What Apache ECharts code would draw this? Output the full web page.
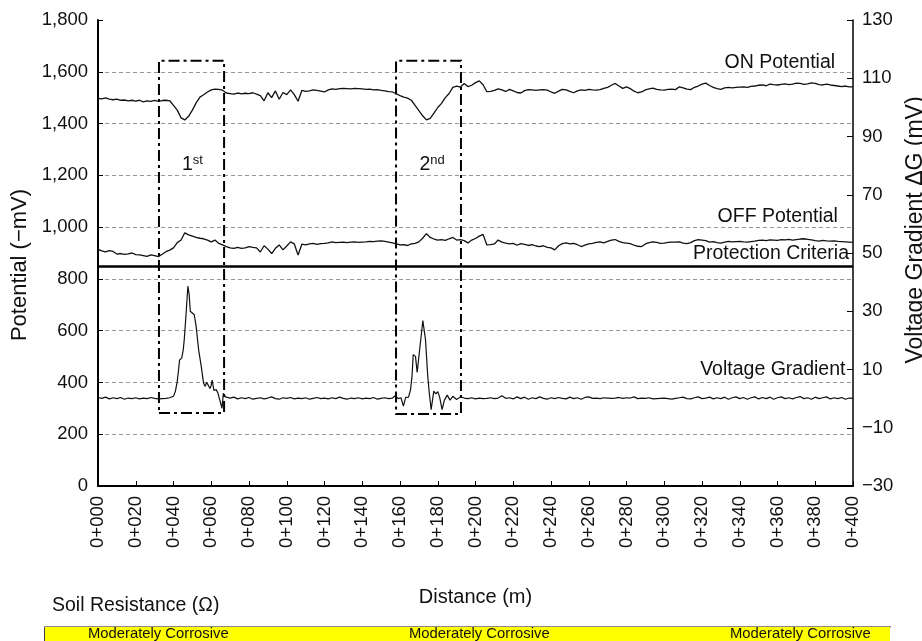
<!DOCTYPE html>
<html>
<head>
<meta charset="utf-8">
<script src="https://cdn.jsdelivr.net/npm/echarts@6/dist/echarts.min.js"></script>
<style>
  html, body { margin: 0; padding: 0; background: #fff; }
  #chart { width: 922px; height: 641px; }
</style>
</head>
<body>
<div id="chart"></div>
<script>
// potentials read every 2 m along the line (0 .. 400 m), in -mV
const STEP_M = 2
const onPotential = [
  1497, 1495, 1499, 1494, 1492, 1494, 1490, 1491, 1488, 1490,
  1487, 1490, 1484, 1488, 1486, 1490, 1486, 1489, 1490, 1488,
  1470, 1452, 1422, 1414, 1428, 1452, 1480, 1502, 1511, 1522,
  1530, 1533, 1532, 1529, 1518, 1516, 1514, 1518, 1515, 1517,
  1516, 1519, 1514, 1508, 1488, 1519, 1500, 1526, 1494, 1520,
  1512, 1530, 1512, 1486, 1528, 1524, 1526, 1530, 1528, 1525,
  1522, 1530, 1534, 1532, 1535, 1536, 1535, 1534, 1536, 1535,
  1534, 1532, 1533, 1530, 1531, 1528, 1526, 1523, 1522, 1515,
  1508, 1502, 1498, 1490, 1470, 1450, 1430, 1414, 1420, 1440,
  1462, 1478, 1500, 1516, 1540, 1545, 1541, 1555, 1543, 1548,
  1558, 1565, 1550, 1523, 1524, 1528, 1534, 1530, 1524, 1532,
  1526, 1520, 1518, 1527, 1531, 1530, 1528, 1530, 1531, 1529,
  1522, 1517, 1525, 1532, 1530, 1524, 1519, 1526, 1530, 1528,
  1532, 1530, 1529, 1531, 1536, 1540, 1548, 1555, 1545, 1536,
  1542, 1535, 1525, 1519, 1522, 1530, 1534, 1537, 1532, 1530,
  1529, 1532, 1533, 1531, 1542, 1538, 1533, 1531, 1540, 1545,
  1552, 1556, 1547, 1540, 1535, 1532, 1538, 1540, 1538, 1540,
  1541, 1542, 1540, 1544, 1545, 1548, 1549, 1546, 1552, 1550,
  1549, 1551, 1553, 1550, 1552, 1556, 1555, 1551, 1553, 1557,
  1555, 1550, 1549, 1552, 1549, 1547, 1545, 1543, 1545, 1542,
  1542
]
const offPotential = [
  914, 908, 904, 909, 906, 896, 898, 895, 897, 900,
  894, 893, 890, 887, 893, 890, 886, 895, 905, 911,
  920, 940, 950, 978, 970, 965, 960, 957, 955, 950,
  943, 950, 937, 931, 925, 920, 918, 922, 918, 920,
  925, 922, 920, 904, 928, 915, 898, 918, 931, 912,
  927, 943, 935, 892, 934, 931, 935, 937, 933, 936,
  937, 939, 943, 940, 941, 942, 940, 942, 943, 941,
  942, 943, 945, 944, 946, 947, 945, 942, 939, 935,
  931, 932, 929, 935, 937, 943, 957, 975, 960, 954,
  950, 952, 949, 955, 960, 950, 952, 948, 939, 950,
  956, 965, 972, 931, 932, 935, 950, 942, 938, 935,
  937, 930, 936, 933, 929, 932, 927, 925, 928, 922,
  920, 912, 928, 936, 939, 935, 937, 932, 925, 930,
  935, 937, 941, 943, 939, 945, 950, 952, 945, 940,
  938, 936, 930, 926, 925, 935, 940, 943, 941, 937,
  938, 941, 942, 942, 943, 938, 936, 940, 948, 952,
  950, 948, 942, 944, 940, 938, 942, 945, 943, 944,
  945, 943, 942, 944, 946, 949, 950, 948, 951, 950,
  949, 952, 951, 953, 950, 952, 954, 955, 953, 951,
  948, 946, 949, 947, 946, 947, 945, 944, 943, 942,
  941
]
// voltage gradient readings [distance m, mV]
const voltageGradient = [
  [0, 0.4], [2, 0.1], [4, 0.5], [6, -0.1], [8, 0.3], [10, 0.0], [12, 0.4], [14, -0.2], [16, 0.2], [18, 0.0],
  [20, 0.3], [22, -0.1], [24, 0.2], [26, 0.0], [28, 0.4], [30, 0.1], [32, -0.1], [34, 0.0], [36, 0.1], [38, 0.3],
  [40, 0.8], [41, 2.5], [42, 6.0], [42.6, 9.4], [43.2, 13.2], [44.4, 14.0], [45.2, 17.0], [45.7, 20.3], [46.7, 29.4],
  [47.6, 38.6], [48.3, 35.7], [48.9, 30.0], [49.8, 29.5], [51, 28.8], [52, 24.8], [53.3, 16.8], [54.7, 11.1],
  [55.9, 5.4], [56.8, 4.2], [57.6, 5.6], [58.5, 5.0], [59.3, 3.5], [60, 4.6], [60.5, 6.4], [61.4, 2.8], [62.6, 3.1],
  [63.5, 2.0], [64.3, 1.5], [65.7, -3.3], [66.4, 1.8], [67.5, 0.6],
  [70, 0.2], [72, 0.5], [74, -0.1], [76, 0.3], [78, 0.0], [80, 0.4], [82, -0.2], [84, 0.1], [86, 0.3], [88, -0.1],
  [90, 0.2], [92, 0.6], [94, 0.0], [96, -0.2], [98, 0.3], [100, 0.1], [102, 0.4], [104, -0.1], [106, 0.2], [108, 0.0],
  [110, 0.3], [112, -0.2], [114, 0.1], [116, 0.4], [118, 0.0], [120, 0.2], [122, -0.1], [124, 0.3], [126, 0.0], [128, 0.5],
  [130, 0.1], [132, -0.2], [134, 0.2], [136, 0.0], [138, 0.3], [140, -0.1], [142, 0.2], [144, 0.0], [146, 0.4], [148, -0.2],
  [150, 0.1], [152, 0.3], [154, 0.0],
  [156, 0.2], [157.5, 1.0], [159, 0.0], [160.5, 0.3], [161.8, -2.6], [163, 0.4], [164.5, 0.5], [165.6, 3.1], [166.4, 8.0],
  [167, 15.1], [168.2, 14.5], [169.1, 9.0], [170.4, 16.8], [171.3, 22.0], [172.1, 26.8], [173.5, 20.3], [174.7, 7.7],
  [175.5, 2.0], [176.5, -3.8], [177.9, 2.6], [179, 1.6], [180, 2.4], [181, 0.5], [182.3, -3.8], [183.5, -0.5], [185, 1.2],
  [186.5, -0.5], [188, 0.8], [190, -0.3], [192, 0.6],
  [194, 0.2], [196, 0.0], [198, 0.3], [200, -0.1], [202, 0.2], [204, 0.0], [206, 0.1], [208, 0.3], [210, 0.0], [212, 0.2],
  [214, 1.0], [216, 0.1], [218, 0.3], [220, -0.1], [222, 0.6], [224, 0.0], [226, 0.5], [228, -0.2], [230, 0.3], [232, 0.0],
  [234, 0.6], [236, 0.1], [238, -0.2], [240, 0.3], [242, 0.0], [244, 0.4], [246, 0.1], [248, -0.1], [250, 0.5], [252, 0.0],
  [254, 0.3], [256, -0.2], [258, 0.4], [260, 0.6], [262, 0.1], [264, 0.2], [266, 0.0], [268, 0.3], [270, 0.2], [272, 0.1],
  [274, 0.2], [276, 0.4], [278, 0.1], [280, 0.3], [282, 0.2], [284, 0.6], [286, 0.0], [288, 0.2], [290, 0.1], [292, 0.3],
  [294, -0.1], [296, 0.0], [298, 0.1], [300, 0.2], [302, 0.0], [304, -0.2], [306, 0.1], [308, 0.3], [310, 0.5], [312, 0.0],
  [314, -0.1], [316, 0.3], [318, 0.6], [320, 0.0], [322, 0.2], [324, 0.5], [326, -0.1], [328, 0.3], [330, 0.0], [332, 0.5],
  [334, -0.2], [336, 0.3], [338, 0.6], [340, 0.0], [342, 0.4], [344, -0.2], [346, 0.3], [348, 0.6], [350, -0.1], [352, 0.4],
  [354, 0.0], [356, 0.5], [358, -0.2], [360, 0.3], [362, 0.6], [364, 0.0], [366, 0.3], [368, -0.1], [370, 0.4], [372, 0.7],
  [374, 0.0], [376, 0.3], [378, -0.2], [380, 0.5], [382, 0.0], [384, 0.3], [386, 0.6], [388, -0.1], [390, 0.3], [392, 0.0],
  [394, 0.4], [396, -0.2], [398, 0.2], [400, 0.1]
]

const distanceLabels = ['0+000', '0+020', '0+040', '0+060', '0+080', '0+100', '0+120', '0+140', '0+160', '0+180', '0+200',
  '0+220', '0+240', '0+260', '0+280', '0+300', '0+320', '0+340', '0+360', '0+380', '0+400']
const potentialLabels = ['0', '200', '400', '600', '800', '1,000', '1,200', '1,400', '1,600', '1,800']
const gradientLabels = ['\u221230', '\u221210', '10', '30', '50', '70', '90', '110', '130']

// the two inspected stretches (m) and the box they get (-mV)
const windows = [
  { name: '1', sup: 'st', from: 32.3, to: 66.8, low: 282, high: 1643, labelAt: 50 },
  { name: '2', sup: 'nd', from: 157.9, to: 192.3, low: 278, high: 1643, labelAt: 177 }
]
const protectionCriteria = 850

// soil resistance table row
const soilClasses = ['Moderately Corrosive', 'Moderately Corrosive', 'Moderately Corrosive']
const soilWidths = [321, 321, 203]

const FONT = 'Liberation Sans, Arial, sans-serif'
const INK = '#111'

let chart = echarts.init(document.getElementById('chart'), null, { renderer: 'canvas' })

function annot(coord, text) {
  return {
    coord: coord,
    value: text,
    symbolSize: 0,
    label: {
      show: true, position: 'left', distance: 0, formatter: text,
      fontFamily: FONT, fontSize: 19.5, color: INK
    }
  }
}

let option = {
  animation: false,
  textStyle: { fontFamily: FONT },
  title: {
    text: 'Soil Resistance (\u03a9)',
    left: 52, top: 596, padding: 0,
    textStyle: { fontFamily: FONT, fontSize: 19.5, fontWeight: 'normal', color: INK }
  },
  grid: [
    { left: 98, right: 69, top: 20, bottom: 155, outerBoundsMode: 'none' },
    { left: 45, right: 32, top: 627, height: 14, outerBoundsMode: 'none' }
  ],
  xAxis: [
    {
      type: 'value', gridIndex: 0, min: 0, max: 400, interval: 20,
      name: 'Distance (m)', nameLocation: 'middle', nameGap: 101,
      nameTextStyle: { fontFamily: FONT, fontSize: 20, color: INK },
      axisLine: { lineStyle: { color: '#000', width: 2 } },
      axisTick: { inside: true, length: 5, lineStyle: { color: '#000' } },
      axisLabel: {
        rotate: 90, margin: 10, fontSize: 18.5, color: INK, fontFamily: FONT,
        formatter: v => distanceLabels[Math.round(v / 20)]
      },
      splitLine: { show: false }
    },
    {
      type: 'value', gridIndex: 1, min: 0, max: 845, position: 'top',
      axisLine: { show: true, lineStyle: { color: '#8a8a8a', width: 2 } },
      axisTick: { show: false }, axisLabel: { show: false }, splitLine: { show: false }
    }
  ],
  yAxis: [
    {
      type: 'value', gridIndex: 0, min: 0, max: 1800, interval: 200,
      name: 'Potential (\u2212mV)', nameLocation: 'middle', nameGap: 66, nameRotate: 90,
      nameTextStyle: { fontFamily: FONT, fontSize: 22, color: INK, padding: [0, 24, 0, 0] },
      axisLine: { show: true, lineStyle: { color: '#000', width: 2 } },
      axisTick: { show: true, inside: true, length: 5, lineStyle: { color: '#000' } },
      axisLabel: {
        margin: 10, fontSize: 18.5, color: INK, fontFamily: FONT,
        formatter: v => potentialLabels[Math.round(v / 200)]
      },
      splitLine: {
        show: true, showMinLine: false, showMaxLine: false,
        lineStyle: { color: '#9a9a9a', type: [4, 3], width: 1 }
      }
    },
    {
      type: 'value', gridIndex: 0, position: 'right', min: -30, max: 130, interval: 20,
      alignTicks: false,
      name: 'Voltage Gradient \u0394G (mV)', nameLocation: 'middle', nameGap: 47, nameRotate: 90,
      nameTextStyle: { fontFamily: FONT, fontSize: 23, color: INK, padding: [0, 0, 0, 46] },
      axisLine: { show: true, lineStyle: { color: '#000', width: 1.5 } },
      axisTick: { show: true, inside: true, length: 6, lineStyle: { color: '#000' } },
      axisLabel: {
        margin: 9, fontSize: 18.5, color: INK, fontFamily: FONT,
        formatter: v => gradientLabels[Math.round((v + 30) / 20)]
      },
      splitLine: { show: false }
    },
    {
      type: 'category', gridIndex: 1, data: ['soil'], position: 'right',
      axisLine: { show: true, lineStyle: { color: '#000', width: 1.5 } },
      axisTick: { show: false }, axisLabel: { show: false }
    }
  ],
  series: [
    {
      name: 'ON Potential', type: 'line', xAxisIndex: 0, yAxisIndex: 0,
      data: onPotential.map((v, i) => [i * STEP_M, v]),
      showSymbol: false, lineStyle: { color: INK, width: 1.3 }, z: 3,
      markArea: {
        silent: true,
        itemStyle: { color: 'rgba(0,0,0,0)', borderColor: '#000', borderWidth: 2, borderType: [11, 4, 3, 4] },
        data: windows.map(w => [{ xAxis: w.from, yAxis: w.low }, { xAxis: w.to, yAxis: w.high }])
      },
      markPoint: {
        silent: true,
        data: [
          annot([390.5, 1635], 'ON Potential')
        ].concat(windows.map(w => ({
          coord: [w.labelAt, 1240],
          symbolSize: 0,
          label: {
            show: true, position: 'inside',
            formatter: '{n|' + w.name + '}{s|' + w.sup + '}',
            rich: {
              n: { fontFamily: FONT, fontSize: 19.5, color: INK, lineHeight: 22 },
              s: { fontFamily: FONT, fontSize: 13, color: INK, lineHeight: 13, verticalAlign: 'top' }
            }
          }
        })))
      }
    },
    {
      name: 'OFF Potential', type: 'line', xAxisIndex: 0, yAxisIndex: 0,
      data: offPotential.map((v, i) => [i * STEP_M, v]),
      showSymbol: false, lineStyle: { color: INK, width: 1.3 }, z: 3,
      markPoint: { silent: true, data: [annot([392, 1040], 'OFF Potential')] },
      markLine: {
        silent: true, symbol: ['none', 'none'],
        lineStyle: { color: '#000', width: 2.5, type: 'solid' },
        label: {
          show: true, position: 'insideEndTop', distance: [4, 2], formatter: 'Protection Criteria',
          fontFamily: FONT, fontSize: 19.5, color: INK
        },
        data: [{ yAxis: protectionCriteria }]
      }
    },
    {
      name: 'Voltage Gradient', type: 'line', xAxisIndex: 0, yAxisIndex: 1,
      data: voltageGradient,
      showSymbol: false, lineStyle: { color: INK, width: 1.2 }, z: 3,
      markPoint: { silent: true, data: [annot([396, 10], 'Voltage Gradient')] }
    }
  ].concat(soilClasses.map((c, i) => ({
    name: 'soil' + i, type: 'bar', xAxisIndex: 1, yAxisIndex: 2, stack: 'soil',
    data: [soilWidths[i]], barWidth: '100%', silent: true,
    itemStyle: { color: '#ffff00' },
    label: {
      show: true, position: 'insideLeft', distance: 43, formatter: c,
      fontFamily: FONT, fontSize: 14.8, color: INK
    }
  })))
}

chart.setOption(option)
</script>
</body>
</html>
